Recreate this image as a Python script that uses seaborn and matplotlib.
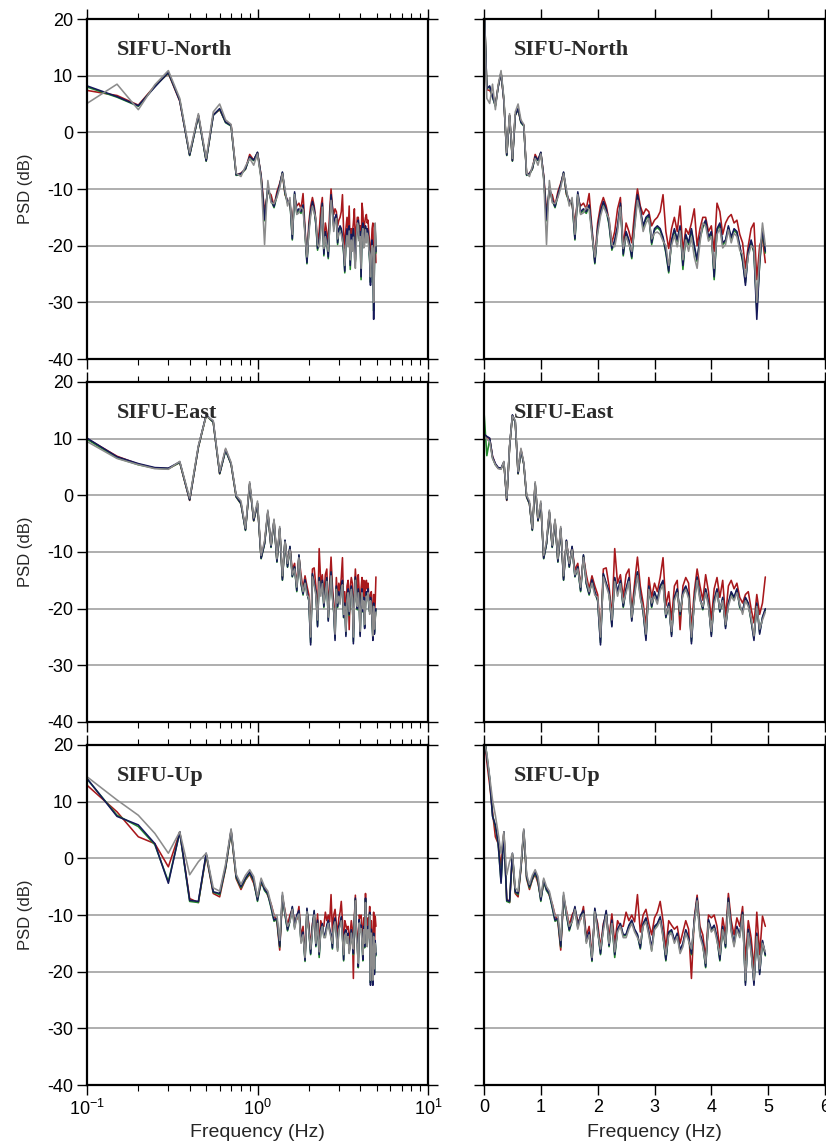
import numpy as np
import pandas as pd
import matplotlib
matplotlib.use("Agg")
import matplotlib.pyplot as plt
import seaborn as sns

# frequency bins (Hz), 0.05 Hz spacing
freq = np.round(np.arange(100) * 0.05, 2)

series_names = ["red", "green", "navy", "gray"]
components = ["North", "East", "Up"]

north_red = [24.0, 7.5, 7.4, 6.5, 4.8, 8.2, 10.4, 5.5, -4.0, 3.0,
             -5.0, 3.1, 4.0, 1.8, 1.3, -7.5, -7.2, -6.5, -3.9, -4.9,
             -3.6, -7.6, -14.0, -10.5, -11.0, -13.0, -10.5, -9.0, -7.2, -11.0,
             -12.0, -12.8, -16.0, -11.5, -13.0, -12.5, -13.5, -10.8, -17.0, -22.5,
             -16.0, -13.0, -11.5, -13.0, -15.5, -19.5, -17.5, -13.5, -11.5, -20.0,
             -16.0, -17.5, -19.5, -14.0, -10.0, -13.0, -14.5, -13.5, -14.0, -16.5,
             -15.5, -15.0, -14.0, -11.0, -17.5, -20.5, -17.0, -15.0, -17.5, -13.0,
             -21.0, -17.0, -18.0, -16.0, -13.5, -20.0, -17.0, -15.0, -15.0, -17.5,
             -16.5, -21.0, -12.5, -14.0, -18.0, -16.0, -15.0, -14.5, -16.0, -15.5,
             -18.0, -19.5, -24.0, -20.0, -17.0, -16.0, -26.0, -20.0, -18.5, -23.0]
north_green = [24.0, 7.8, 8.0, 6.2, 4.6, 8.1, 10.5, 5.7, -4.1, 2.9,
               -5.1, 3.0, 4.1, 1.7, 1.1, -7.6, -7.4, -6.5, -4.4, -5.0,
               -3.6, -8.0, -15.6, -9.8, -12.0, -13.3, -11.2, -9.4, -7.1, -10.8,
               -12.5, -12.2, -19.0, -10.8, -14.3, -13.8, -14.3, -13.0, -17.8, -23.2,
               -17.3, -14.2, -12.5, -13.8, -16.3, -20.8, -19.3, -16.8, -12.8, -21.8,
               -17.8, -19.3, -22.3, -16.3, -11.3, -13.8, -16.8, -15.3, -14.8, -19.8,
               -17.3, -16.8, -17.3, -18.8, -21.3, -24.8, -19.3, -17.3, -19.3, -16.8,
               -24.2, -18.3, -19.8, -17.3, -20.3, -22.8, -18.8, -16.8, -15.8, -18.8,
               -17.8, -26.0, -17.3, -16.3, -19.8, -19.3, -16.8, -18.8, -17.3, -17.8,
               -20.3, -22.8, -26.5, -21.3, -19.3, -21.3, -31.5, -23.3, -17.3, -21.3]
north_navy = [24.0, 7.7, 8.2, 6.3, 4.7, 8.0, 10.6, 5.6, -4.0, 3.0,
              -5.0, 3.0, 4.2, 1.8, 1.2, -7.5, -7.3, -6.4, -4.3, -4.9,
              -3.5, -7.8, -15.4, -9.6, -11.9, -13.1, -11.0, -9.3, -7.0, -10.5,
              -12.3, -12.0, -18.8, -10.5, -14.0, -13.5, -14.0, -12.8, -17.5, -23.0,
              -17.0, -14.0, -12.2, -13.5, -16.0, -20.5, -19.0, -16.5, -12.5, -21.5,
              -17.5, -19.0, -22.0, -16.0, -11.0, -13.5, -16.5, -15.0, -14.5, -19.5,
              -17.0, -16.5, -17.0, -18.5, -21.0, -24.5, -19.0, -17.0, -19.0, -16.5,
              -23.5, -18.0, -19.5, -17.0, -20.0, -22.5, -18.5, -16.5, -15.5, -18.5,
              -17.5, -25.5, -17.0, -16.0, -19.5, -19.0, -16.5, -18.5, -17.0, -17.5,
              -20.0, -22.5, -27.0, -21.0, -19.0, -21.0, -33.0, -23.0, -17.0, -21.0]
north_gray = [23.0, 6.0, 5.1, 8.5, 4.0, 8.4, 10.9, 6.0, -3.6, 3.3,
              -4.6, 3.6, 5.0, 2.2, 1.4, -7.2, -7.8, -6.0, -4.6, -5.8,
              -3.8, -8.3, -19.8, -8.5, -12.4, -12.6, -11.5, -9.8, -7.3, -10.0,
              -13.0, -11.5, -18.0, -11.0, -14.5, -14.2, -13.2, -13.6, -18.2, -22.0,
              -17.8, -14.8, -13.0, -14.2, -15.2, -19.8, -20.2, -17.5, -13.2, -20.5,
              -18.4, -19.8, -21.0, -17.0, -12.0, -14.2, -17.5, -16.0, -15.2, -18.8,
              -17.8, -17.6, -18.0, -19.2, -20.0, -23.5, -20.0, -18.2, -20.2, -17.4,
              -22.5, -19.0, -21.0, -18.5, -22.0, -24.0, -19.5, -16.0, -16.5, -19.2,
              -18.4, -24.0, -18.0, -17.0, -20.4, -19.8, -17.2, -19.5, -17.8, -18.4,
              -20.8, -21.5, -25.5, -21.8, -20.0, -20.5, -30.0, -22.0, -16.0, -20.0]

east_red = [10.8, 10.3, 10.0, 6.9, 5.5, 4.8, 4.7, 5.8, -0.9, 8.5,
            14.1, 12.9, 3.8, 8.1, 5.5, -0.3, -1.5, -6.0, 2.0, -4.5,
            -1.5, -11.0, -8.4, -3.0, -9.0, -4.5, -11.5, -5.9, -14.6, -8.0,
            -12.2, -9.2, -13.2, -12.0, -16.0, -10.8, -14.0, -16.5, -14.2, -16.0,
            -17.5, -24.5, -13.0, -12.8, -16.0, -21.5, -9.4, -15.5, -14.0, -18.0,
            -14.0, -13.0, -20.5, -15.5, -10.9, -16.0, -19.0, -23.0, -14.5, -18.0,
            -15.5, -17.0, -14.5, -11.0, -19.5, -17.0, -22.0, -16.0, -15.0, -23.7,
            -16.0, -14.5, -15.5, -23.5, -17.0, -13.0, -16.0, -18.5, -14.0, -17.0,
            -22.0, -16.5, -14.5, -18.0, -15.0, -21.5, -16.0, -15.0, -16.5, -15.5,
            -18.0, -19.0, -17.5, -17.0, -20.0, -22.5, -17.5, -21.0, -19.0, -14.4]
east_green = [14.8, 7.0, 9.9, 6.6, 5.4, 4.8, 4.7, 5.8, -0.8, 8.5,
              14.1, 12.9, 3.8, 7.9, 5.5, -0.3, -1.5, -6.2, 2.0, -4.5,
              -1.5, -11.2, -8.6, -3.0, -9.2, -4.5, -11.8, -5.9, -15.0, -8.0,
              -12.7, -9.1, -14.4, -12.7, -17.0, -10.6, -15.6, -17.6, -15.0, -17.2,
              -18.6, -26.0, -14.0, -15.6, -17.2, -23.0, -14.6, -17.2, -15.2, -19.8,
              -16.6, -14.7, -22.0, -17.2, -13.6, -17.7, -20.6, -25.2, -16.2, -19.8,
              -17.2, -18.6, -16.2, -15.2, -21.6, -19.2, -24.6, -18.2, -16.6, -21.2,
              -17.2, -16.2, -17.6, -25.8, -18.6, -14.6, -18.2, -20.2, -16.6, -19.2,
              -24.6, -18.6, -16.6, -20.6, -18.2, -23.2, -19.2, -17.2, -18.2, -16.6,
              -19.8, -20.6, -18.2, -19.2, -22.2, -25.2, -19.2, -24.2, -21.6, -20.2]
east_navy = [10.8, 10.4, 10.1, 6.8, 5.6, 4.9, 4.8, 5.9, -0.8, 8.6,
             14.2, 13.0, 3.9, 8.0, 5.6, -0.2, -1.4, -6.1, 2.1, -4.4,
             -1.4, -11.1, -8.5, -2.9, -9.1, -4.4, -11.7, -5.8, -14.9, -7.9,
             -12.6, -9.0, -14.3, -12.6, -16.8, -10.5, -15.5, -17.4, -14.9, -17.0,
             -18.5, -26.4, -13.8, -15.5, -17.0, -23.2, -14.5, -17.0, -15.0, -19.6,
             -16.5, -14.5, -22.2, -17.0, -13.5, -17.5, -20.5, -25.6, -16.0, -19.6,
             -17.0, -18.5, -16.0, -15.0, -21.5, -19.0, -24.9, -18.0, -16.5, -21.0,
             -17.0, -16.0, -17.5, -26.2, -18.5, -14.4, -18.0, -20.0, -16.5, -19.0,
             -24.9, -18.5, -16.5, -20.5, -18.0, -23.5, -19.0, -17.0, -18.0, -16.5,
             -19.6, -20.5, -18.0, -19.0, -22.0, -25.6, -19.0, -24.5, -21.5, -20.0]
east_gray = [10.4, 9.9, 9.5, 6.5, 5.4, 4.7, 4.6, 6.0, -0.5, 8.8,
             14.0, 13.2, 4.2, 8.3, 5.8, 0.0, -1.0, -5.8, 2.4, -4.0,
             -1.0, -10.6, -8.0, -2.6, -8.8, -4.2, -11.2, -5.5, -14.2, -8.2,
             -12.0, -9.6, -14.0, -13.0, -16.2, -11.0, -15.0, -17.0, -15.5, -17.6,
             -18.0, -25.0, -14.4, -16.0, -17.6, -22.0, -15.2, -17.8, -15.6, -19.0,
             -17.2, -15.2, -21.5, -17.6, -14.2, -18.2, -20.0, -24.5, -16.6, -19.0,
             -17.8, -19.2, -16.8, -15.8, -21.0, -19.6, -24.0, -18.6, -17.2, -20.5,
             -17.6, -16.6, -18.2, -25.0, -19.0, -15.0, -18.6, -19.6, -17.2, -19.6,
             -24.0, -19.2, -17.2, -20.0, -18.6, -22.8, -19.6, -17.8, -18.6, -17.2,
             -19.2, -21.0, -18.6, -19.6, -21.6, -24.8, -19.6, -23.6, -22.0, -20.6]

up_red = [22.0, 17.0, 12.9, 8.2, 3.8, 2.6, -1.5, 4.6, -7.1, -7.8,
          0.5, -6.2, -6.8, -1.8, 4.8, -3.6, -5.5, -3.8, -2.8, -4.4,
          -7.0, -4.5, -5.2, -6.6, -8.0, -10.0, -11.2, -16.2, -7.0, -9.2,
          -11.8, -10.0, -9.0, -11.0, -10.8, -8.5, -13.8, -12.0, -17.2, -9.5,
          -11.5, -15.8, -11.5, -10.0, -14.0, -9.8, -15.0, -11.0, -12.0, -12.0,
          -9.5, -11.0, -10.0, -11.2, -6.4, -13.0, -10.0, -9.0, -11.5, -13.5,
          -10.5, -9.5, -7.6, -11.0, -16.0, -11.0, -11.8, -12.5, -12.0, -15.0,
          -13.0, -11.0, -12.5, -21.2, -10.5, -6.5, -12.0, -13.5, -17.5, -10.0,
          -10.5, -10.0, -12.0, -16.0, -10.5, -13.5, -6.2, -11.0, -13.5, -10.5,
          -12.0, -8.5, -18.0, -11.0, -14.0, -19.5, -9.5, -17.0, -10.2, -12.0]
up_green = [22.0, 18.2, 14.0, 7.6, 5.6, 2.4, -4.1, 4.6, -7.6, -7.8,
            0.7, -6.0, -6.4, -1.7, 4.8, -3.4, -5.2, -3.7, -2.6, -4.0,
            -7.6, -4.0, -5.7, -6.4, -8.7, -11.1, -10.8, -15.7, -6.7, -10.0,
            -12.8, -11.1, -8.7, -12.2, -10.2, -9.4, -14.7, -13.2, -18.2, -9.0,
            -12.7, -17.0, -12.2, -9.4, -15.6, -11.1, -17.5, -12.7, -11.7, -13.7,
            -13.6, -12.0, -11.1, -12.7, -13.6, -16.0, -11.7, -10.7, -13.2, -16.2,
            -12.2, -11.7, -10.5, -13.7, -18.1, -13.2, -12.8, -14.7, -13.4, -16.4,
            -15.2, -12.8, -14.2, -17.0, -11.2, -7.2, -13.4, -15.2, -19.3, -11.0,
            -12.7, -12.0, -14.2, -18.1, -12.2, -15.8, -7.2, -12.7, -15.2, -12.2,
            -13.7, -9.7, -22.0, -12.7, -16.2, -22.0, -13.4, -20.2, -14.7, -17.2]
up_navy = [22.0, 18.0, 14.1, 7.4, 5.9, 2.6, -4.4, 4.7, -7.4, -7.6,
           0.9, -5.9, -6.2, -1.5, 5.0, -3.2, -5.0, -3.5, -2.4, -3.8,
           -7.4, -3.8, -5.5, -6.2, -8.5, -10.9, -10.6, -15.5, -6.5, -9.8,
           -12.6, -10.9, -8.5, -12.0, -10.0, -9.2, -14.5, -13.0, -18.0, -8.8,
           -12.5, -16.8, -12.0, -9.2, -15.4, -10.9, -17.0, -12.5, -11.5, -13.5,
           -13.4, -11.8, -10.9, -12.5, -13.4, -15.8, -11.5, -10.5, -13.0, -15.8,
           -12.0, -11.5, -10.3, -13.5, -17.9, -13.0, -12.6, -14.5, -13.2, -16.2,
           -15.0, -12.6, -14.0, -16.8, -11.0, -7.0, -13.2, -15.0, -19.1, -10.8,
           -12.5, -11.8, -14.0, -17.9, -12.0, -15.6, -7.0, -12.5, -15.0, -12.0,
           -13.5, -9.5, -22.4, -12.5, -16.0, -22.4, -13.2, -20.5, -14.5, -17.0]
up_gray = [21.0, 18.5, 14.4, 10.3, 7.6, 4.4, 0.9, 4.7, -2.9, -0.6,
           0.9, -5.2, -5.8, -1.0, 5.2, -2.8, -4.6, -3.0, -2.0, -3.2,
           -6.8, -3.5, -5.0, -5.8, -8.0, -10.2, -10.0, -14.5, -6.0, -9.5,
           -12.0, -11.2, -9.0, -12.5, -10.5, -9.8, -15.0, -13.5, -17.5, -9.4,
           -13.0, -16.0, -12.8, -10.0, -15.0, -11.5, -16.5, -13.0, -12.0, -14.0,
           -14.0, -12.5, -11.5, -13.0, -14.0, -15.0, -12.0, -11.2, -13.6, -16.4,
           -12.6, -12.0, -11.0, -14.0, -17.0, -13.6, -13.2, -15.0, -13.8, -16.8,
           -15.6, -13.2, -14.6, -16.0, -11.6, -7.5, -13.8, -15.6, -18.5, -11.4,
           -13.0, -12.4, -14.6, -17.0, -12.6, -15.0, -7.8, -13.0, -15.6, -12.6,
           -14.0, -10.0, -21.5, -13.2, -16.6, -21.5, -13.8, -19.5, -15.0, -16.5]

# long-form table for seaborn
frames = []
for comp, vals in [("North", [north_red, north_green, north_navy, north_gray]),
                   ("East", [east_red, east_green, east_navy, east_gray]),
                   ("Up", [up_red, up_green, up_navy, up_gray])]:
    for name, v in zip(series_names, vals):
        frames.append(pd.DataFrame({"freq": freq, "psd": v, "series": name, "comp": comp}))
df = pd.concat(frames, ignore_index=True)

palette = {"red": "#a8181c", "green": "#22882a", "navy": "#15185a", "gray": "#8c8c8c"}

sns.set_style("ticks")
plt.rcParams["font.family"] = ["Liberation Sans", "DejaVu Sans"]
plt.rcParams["axes.unicode_minus"] = False

fig = plt.figure(figsize=(8.26, 11.46), dpi=100)
W, H = 826, 1146
lefts = [87 / W, 484 / W]
bottoms = [1 - 359 / H, 1 - 722 / H, 1 - 1085 / H]
aw, ah = 341 / W, 340 / H

for i, comp in enumerate(components):
    for j in range(2):
        ax = fig.add_axes([lefts[j], bottoms[i], aw, ah])
        sub = df[df["comp"] == comp]
        if j == 0:
            sub = sub[sub["freq"] > 0]
        sns.lineplot(data=sub, x="freq", y="psd", hue="series", hue_order=series_names,
                     palette=palette, estimator=None, sort=False, legend=False,
                     linewidth=1.15, ax=ax)
        if j == 0:
            ax.set_xscale("log")
            ax.set_xlim(0.1, 10)
        else:
            ax.set_xlim(0, 6)
            ax.set_xticks(range(7))
        ax.set_ylim(-40, 20)
        ax.set_yticks(range(-40, 21, 10))
        ax.yaxis.grid(True, color="#a8a8a8", linewidth=1.3)
        ax.set_axisbelow(True)
        for s in ax.spines.values():
            s.set_linewidth(1.6)
            s.set_color("black")
        ax.tick_params(which="both", direction="out", top=True, right=True,
                       labelsize=13, colors="black", pad=3)
        ax.tick_params(which="major", length=7, width=1.0)
        ax.tick_params(which="minor", length=4.5, width=0.8)
        if i == 2:
            ax.set_xlabel("Frequency (Hz)", fontsize=14)
            ax.xaxis.set_label_coords(0.5, -0.116)
        else:
            ax.set_xlabel("")
            ax.tick_params(which="both", labelbottom=False)
        if j == 0:
            ax.set_ylabel("PSD (dB)", fontsize=12)
            ax.yaxis.set_label_coords(-0.158, 0.5)
        else:
            ax.set_ylabel("")
            ax.tick_params(which="both", labelleft=False)
        ax.text(0.087, 0.894, f"SIFU-{comp}", transform=ax.transAxes,
                family="Liberation Serif", fontweight="bold", fontsize=16,
                color="#2a2a2a", va="baseline", ha="left")

fig.savefig("out.png", dpi=100)
